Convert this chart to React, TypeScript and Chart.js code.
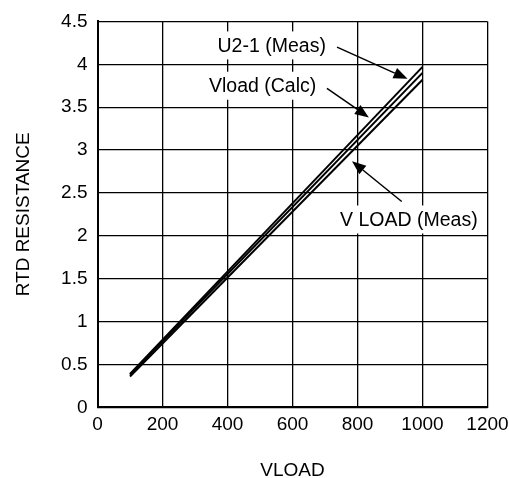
import React, { useEffect, useRef } from "react";
import { Chart, registerables } from "chart.js";

Chart.register(...registerables);

const FONT = "'Liberation Sans', Arial, Helvetica, sans-serif";

// Data
const xValues = [100, 1000];
const u21Meas = [0.39, 3.97];
const vloadCalc = [0.38, 3.9];
const vloadMeas = [0.36, 3.82];

const xTicks = [0, 200, 400, 600, 800, 1000, 1200];
const yTicks = [0, 0.5, 1, 1.5, 2, 2.5, 3, 3.5, 4, 4.5];

// Annotations (data coordinates)
const labelTexts = ["U2-1 (Meas)", "Vload (Calc)", "V LOAD (Meas)"];
const labelX = [536, 508, 958];
const labelY = [4.22, 3.75, 2.19];
const arrowFromX = [737, 706, 936];
const arrowFromY = [4.2, 3.72, 2.4];
const arrowToX = [954, 835, 783];
const arrowToY = [3.83, 3.38, 2.87];

const annotationPlugin = {
  id: "annotations",
  afterDatasetsDraw(chart: any) {
    const { ctx, scales } = chart;
    const xs = scales.x;
    const ys = scales.y;
    ctx.save();
    ctx.font = `19.5px ${FONT}`;
    ctx.textAlign = "center";
    ctx.textBaseline = "middle";
    labelTexts.forEach((t, i) => {
      const px = xs.getPixelForValue(labelX[i]);
      const py = ys.getPixelForValue(labelY[i]);
      const w = ctx.measureText(t).width;
      ctx.fillStyle = "#fff";
      ctx.fillRect(px - w / 2 - 4, py - 14, w + 8, 28);
      ctx.fillStyle = "#000";
      ctx.fillText(t, px, py + 1);
    });
    ctx.strokeStyle = "#000";
    ctx.fillStyle = "#000";
    ctx.lineWidth = 1.5;
    arrowFromX.forEach((_, i) => {
      const x0 = xs.getPixelForValue(arrowFromX[i]);
      const y0 = ys.getPixelForValue(arrowFromY[i]);
      const x1 = xs.getPixelForValue(arrowToX[i]);
      const y1 = ys.getPixelForValue(arrowToY[i]);
      const ang = Math.atan2(y1 - y0, x1 - x0);
      const hl = 14;
      const hw = 5.5;
      const bx = x1 - hl * Math.cos(ang);
      const by = y1 - hl * Math.sin(ang);
      ctx.beginPath();
      ctx.moveTo(x0, y0);
      ctx.lineTo(bx, by);
      ctx.stroke();
      ctx.beginPath();
      ctx.moveTo(x1, y1);
      ctx.lineTo(bx + hw * Math.sin(ang), by - hw * Math.cos(ang));
      ctx.lineTo(bx - hw * Math.sin(ang), by + hw * Math.cos(ang));
      ctx.closePath();
      ctx.fill();
    });
    ctx.restore();
  },
};

export default function App() {
  const ref = useRef<HTMLCanvasElement | null>(null);

  useEffect(() => {
    if (!ref.current) return;
    const mk = (ys: number[]) => xValues.map((x, i) => ({ x, y: ys[i] }));
    const ds = (label: string, ys: number[]) => ({
      label,
      data: mk(ys),
      borderColor: "#000",
      backgroundColor: "#000",
      borderWidth: 2,
      pointRadius: 0,
      fill: false,
      tension: 0,
    });
    const chart = new Chart(ref.current, {
      type: "line",
      data: {
        datasets: [
          ds("U2-1 (Meas)", u21Meas),
          ds("Vload (Calc)", vloadCalc),
          ds("V LOAD (Meas)", vloadMeas),
        ],
      },
      options: {
        animation: false,
        responsive: false,
        layout: { padding: { left: 0, top: 18, right: 21.5, bottom: 0 } },
        plugins: {
          legend: { display: false },
          tooltip: { enabled: false },
        },
        scales: {
          x: {
            type: "linear",
            min: 0,
            max: 1200,
            afterBuildTicks: (s: any) => {
              s.ticks = xTicks.map((v) => ({ value: v }));
            },
            afterFit: (s: any) => {
              s.height = 70.7;
              s.paddingRight = 0;
              s.paddingLeft = 0;
            },
            grid: { color: "#000", lineWidth: 1.3, drawTicks: false },
            border: { display: true, color: "#000", width: 2 },
            ticks: {
              color: "#000",
              padding: 6.3,
              maxRotation: 0,
              font: { family: FONT, size: 19 },
              callback: (v: any) => String(v),
            },
            title: {
              display: true,
              text: "VLOAD",
              color: "#000",
              font: { family: FONT, size: 19, lineHeight: 0.8 },
              padding: { top: 0, bottom: 0 },
            },
          },
          y: {
            type: "linear",
            min: 0,
            max: 4.5,
            afterBuildTicks: (s: any) => {
              s.ticks = yTicks.map((v) => ({ value: v }));
            },
            afterFit: (s: any) => {
              s.width = 97.5;
            },
            grid: { color: "#000", lineWidth: 1.3, drawTicks: false },
            border: { display: true, color: "#000", width: 2 },
            ticks: {
              color: "#000",
              padding: 10,
              font: { family: FONT, size: 19 },
              callback: (v: any) => String(v),
            },
            title: {
              display: true,
              text: "RTD RESISTANCE",
              color: "#000",
              font: { family: FONT, size: 19, lineHeight: 0.8 },
              padding: { top: 16, bottom: 0 },
            },
          },
        },
      },
      plugins: [annotationPlugin],
    } as any);
    return () => chart.destroy();
  }, []);

  return (
    <div style={{ position: "fixed", left: 0, top: 0, width: 509, height: 478, background: "#fff" }}>
      <canvas ref={ref} width={509} height={478} style={{ width: 509, height: 478, display: "block" }} />
    </div>
  );
}
